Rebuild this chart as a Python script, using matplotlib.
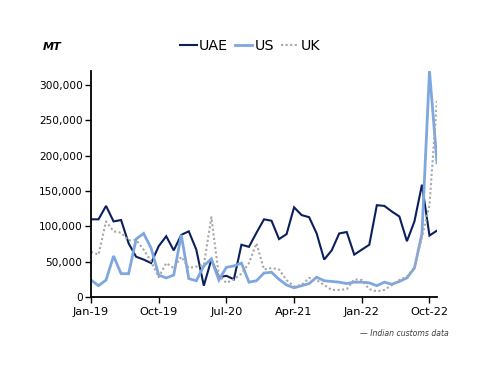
import matplotlib
matplotlib.use("Agg")
import matplotlib.pyplot as plt
from matplotlib.ticker import FuncFormatter, MultipleLocator

# Monthly imports, Jan-19 .. Nov-22 (MT)
uae = [110000, 110000, 129000, 107000, 109000, 76000, 57000, 53000, 48000, 72000,
       86000, 66000, 88000, 93000, 67000, 16000, 53000, 28000, 30000, 25000,
       74000, 71000, 91000, 110000, 108000, 82000, 89000, 127000, 116000, 113000,
       90000, 53000, 66000, 90000, 92000, 60000, 67000, 74000, 130000, 129000,
       121000, 114000, 79000, 107000, 159000, 87000, 94000]
us = [24000, 16000, 24000, 58000, 33000, 33000, 82000, 90000, 69000, 31000,
      27000, 31000, 88000, 26000, 23000, 44000, 54000, 24000, 42000, 44000,
      48000, 21000, 23000, 34000, 35000, 25000, 17000, 13000, 16000, 19000,
      28000, 23000, 22000, 21000, 19000, 21000, 21000, 20000, 16000, 21000,
      18000, 22000, 27000, 41000, 90000, 320000, 190000]
uk = [64000, 60000, 107000, 93000, 91000, 80000, 81000, 67000, 50000, 28000,
      48000, 41000, 57000, 41000, 43000, 45000, 113000, 30000, 20000, 25000,
      33000, 48000, 76000, 39000, 41000, 39000, 24000, 15000, 17000, 27000,
      24000, 17000, 10000, 10000, 11000, 25000, 24000, 11000, 8000, 10000,
      17000, 24000, 29000, 42000, 85000, 130000, 280000]
tick_labels = ["Jan-19", "Oct-19", "Jul-20", "Apr-21", "Jan-22", "Oct-22"]
tick_months = [0, 9, 18, 27, 36, 45]

plt.rcParams['font.family'] = ['DejaVu Sans']

fig = plt.figure(figsize=(5.0, 3.86), dpi=100)
ax = fig.add_axes([0.182, 0.2306, 0.692, 0.5854])

x = list(range(len(uae)))
ax.plot(x, uae, color="#0b1f5e", lw=1.5, label="UAE", solid_joinstyle="miter")
ax.plot(x, us, color="#7fa7df", lw=2.0, label="US", solid_joinstyle="miter")
ax.plot(x, uk, color="#a6a6a6", lw=1.5, ls=(0, (1, 1.2)), label="UK")

ax.set_xlim(0, 46)
ax.set_ylim(0, 320000)
ax.yaxis.set_major_locator(MultipleLocator(50000))
ax.yaxis.set_major_formatter(FuncFormatter(lambda v, p: f"{int(v):,}"))
ax.set_xticks(tick_months)
ax.set_xticklabels(tick_labels)

for s in ["top", "right"]:
    ax.spines[s].set_visible(False)
for s in ["left", "bottom"]:
    ax.spines[s].set_linewidth(1.3)
    ax.spines[s].set_color("black")
ax.tick_params(axis="y", direction="out", length=4, width=1, labelsize=7.6, pad=2)
ax.tick_params(axis="x", direction="out", length=4, width=1, labelsize=8.2, pad=3)

leg = fig.legend(loc="center", bbox_to_anchor=(0.5, 0.881), ncol=3, frameon=False,
                 fontsize=10.3, handlelength=1.2, handletextpad=0.15,
                 columnspacing=0.5, borderpad=0)

fig.text(0.085, 0.878, "MT", fontsize=8, fontweight="bold", style="italic",
         ha="left", va="center")
fig.text(0.898, 0.137, "— Indian customs data", fontsize=5.6, style="italic",
         color="#404040", ha="right", va="center")

fig.savefig("out.png", dpi=100)
